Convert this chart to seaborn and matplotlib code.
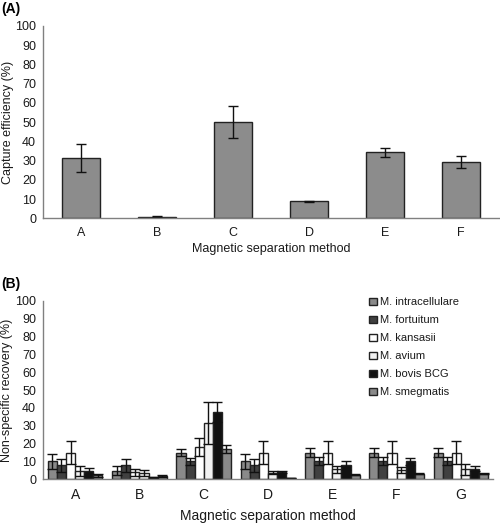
import matplotlib

matplotlib.use("Agg")

import pandas as pd
import seaborn as sns
from matplotlib import pyplot as plt

sns.set_style("white")
plt.rcParams["font.family"] = ["Liberation Sans", "DejaVu Sans"]

# Panel A: capture efficiency
methods_a = ["A", "B", "C", "D", "E", "F"]
capture = [31.3, 0.9, 50.1, 8.8, 34.3, 29.3]
capture_err = [7.4, 0.2, 8.3, 0.3, 2.4, 3.3]

# Panel B: non-specific recovery per species
methods_b = ["A", "B", "C", "D", "E", "F", "G"]
species = ["M. intracellulare", "M. fortuitum", "M. kansasii",
           "M. avium", "M. bovis BCG", "M. smegmatis"]
intracellulare = [10.1, 4.9, 15.0, 10.1, 15.0, 15.0, 15.0]
intracellulare_err = [4.3, 2.3, 2.1, 4.3, 2.3, 2.3, 2.3]
fortuitum = [7.9, 7.9, 10.1, 7.9, 10.1, 10.1, 10.1]
fortuitum_err = [3.7, 3.7, 2.0, 3.7, 2.2, 2.2, 2.2]
kansasii = [15.0, 4.0, 18.0, 15.0, 15.0, 15.0, 15.0]
kansasii_err = [6.7, 2.0, 5.2, 6.7, 6.7, 6.7, 6.7]
avium = [4.7, 3.5, 31.8, 3.8, 5.5, 5.2, 5.6]
avium_err = [2.6, 1.5, 11.8, 1.0, 1.7, 1.7, 3.0]
bovis = [4.7, 1.0, 37.8, 4.0, 7.9, 10.1, 6.0]
bovis_err = [1.6, 0.3, 5.8, 0.5, 2.6, 2.1, 1.3]
smegmatis = [2.2, 1.8, 17.2, 0.7, 2.5, 3.0, 3.0]
smegmatis_err = [1.0, 0.4, 2.2, 0.1, 0.3, 0.3, 0.3]

species_colors = ["#8a8a8a", "#404040", "#ffffff", "#f2f2f2", "#111111", "#8a8a8a"]
text_color = "#1a1a1a"
axis_color = "#808080"

df_a = pd.DataFrame({"method": methods_a, "capture": capture})

values_b = [intracellulare, fortuitum, kansasii, avium, bovis, smegmatis]
errors_b = [intracellulare_err, fortuitum_err, kansasii_err,
            avium_err, bovis_err, smegmatis_err]
rows = []
for sp, vals in zip(species, values_b):
    for m, v in zip(methods_b, vals):
        rows.append({"method": m, "species": sp, "recovery": v})
df_b = pd.DataFrame(rows)

fig = plt.figure(figsize=(5.0, 5.23), dpi=100)
ax_a = fig.add_axes([0.086, 0.5826, 0.912, 0.3677])
ax_b = fig.add_axes([0.086, 0.0836, 0.900, 0.3410])


def style_axis(ax, n):
    ax.set_ylim(0, 100)
    ax.set_yticks(range(0, 101, 10))
    ax.set_xlim(-0.5, n - 0.5)
    ax.set_xticks([i - 0.5 for i in range(n + 1)], minor=True)
    ax.tick_params(axis="x", which="major", length=0, labelsize=9,
                   colors=text_color, pad=6)
    ax.tick_params(axis="x", which="minor", length=4, color=axis_color,
                   direction="out")
    ax.tick_params(axis="y", length=4, color=axis_color, direction="out",
                   labelsize=9, labelcolor=text_color, pad=1)
    for side in ["top", "right"]:
        ax.spines[side].set_visible(False)
    for side in ["left", "bottom"]:
        ax.spines[side].set_color(axis_color)
        ax.spines[side].set_linewidth(1.0)


# Panel A
sns.barplot(data=df_a, x="method", y="capture", color="#8c8c8c",
            width=0.51, saturation=1, errorbar=None, edgecolor="#222222",
            linewidth=1.0, ax=ax_a)
bars = ax_a.containers[0]
xs = [b.get_x() + b.get_width() / 2 for b in bars]
ax_a.errorbar(xs, capture, yerr=capture_err, fmt="none", ecolor="#111111",
              elinewidth=1.0, capsize=3.5, capthick=1.0)
style_axis(ax_a, len(methods_a))
ax_a.set_xlabel("Magnetic separation method", fontsize=9, color=text_color,
                labelpad=3)
ax_a.set_ylabel("Capture efficiency (%)", fontsize=9, color=text_color)
ax_a.yaxis.set_label_coords(-0.063, 0.5)
fig.text(0.002, 0.996, "(A)", fontsize=10, fontweight="bold", va="top",
         ha="left", color="#000000")

# Panel B
sns.barplot(data=df_b, x="method", y="recovery", hue="species",
            hue_order=species, palette=species_colors, width=0.85,
            saturation=1, errorbar=None, edgecolor="#222222", linewidth=1.0,
            ax=ax_b)
for cont, errs, vals in zip(ax_b.containers, errors_b, values_b):
    xs = [b.get_x() + b.get_width() / 2 for b in cont]
    ax_b.errorbar(xs, vals, yerr=errs, fmt="none", ecolor="#111111",
                  elinewidth=1.0, capsize=3.5, capthick=1.0)
style_axis(ax_b, len(methods_b))
ax_b.set_xlabel("Magnetic separation method", fontsize=10, color=text_color,
                labelpad=5)
ax_b.set_ylabel("Non-specific recovery (%)", fontsize=9, color=text_color)
ax_b.yaxis.set_label_coords(-0.066, 0.5)
ax_b.tick_params(axis="x", which="major", labelsize=10)
leg = ax_b.legend(loc="upper left", bbox_to_anchor=(0.715, 1.045),
                  frameon=False, fontsize=8, handlelength=0.7,
                  handleheight=0.7, handletextpad=0.3, labelspacing=0.72,
                  borderaxespad=0)
for t in leg.get_texts():
    t.set_color(text_color)
fig.text(0.002, 0.470, "(B)", fontsize=10, fontweight="bold", va="top",
         ha="left", color="#000000")

fig.savefig("out.png", dpi=100)
